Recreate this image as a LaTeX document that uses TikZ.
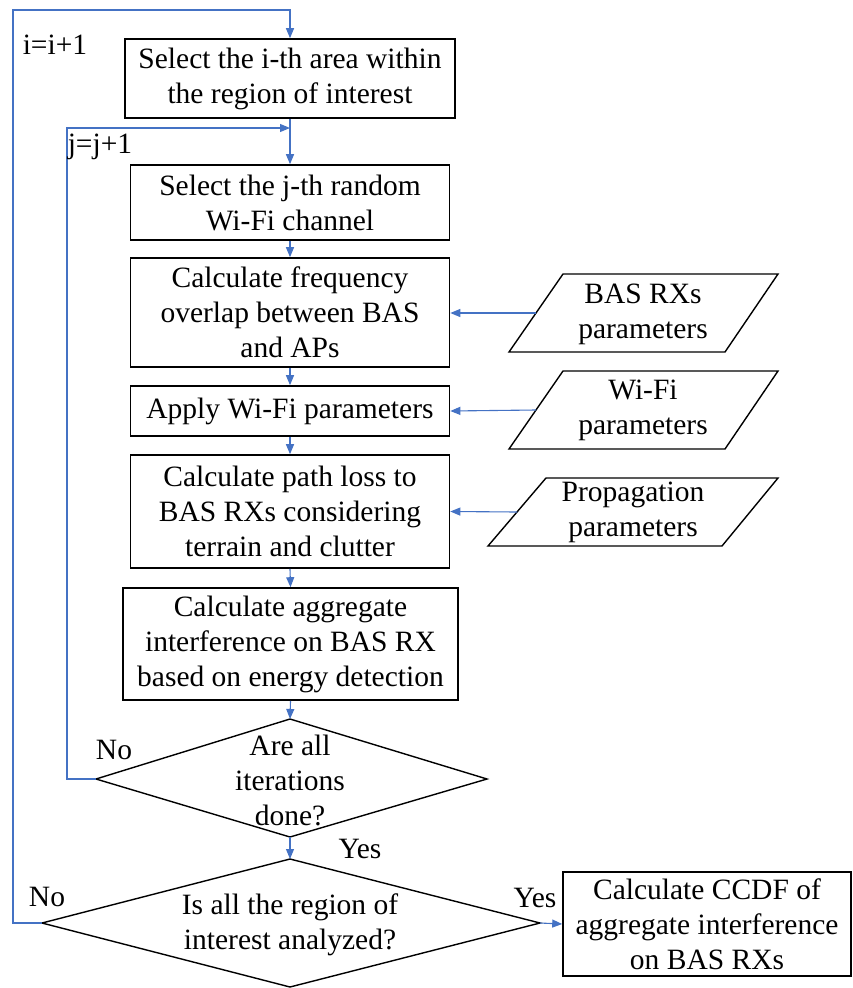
\documentclass[tikz,border=0pt]{standalone}
\usepackage{fontspec}
\setmainfont{LiberationSerif}[Extension=.ttf, UprightFont=*-Regular, BoldFont=*-Bold, ItalicFont=*-Italic, BoldItalicFont=*-BoldItalic]
\usetikzlibrary{arrows.meta}
\definecolor{flowblue}{HTML}{4472C4}
\tikzset{
  procbox/.style={draw=black, line width=1.6pt, rectangle, inner sep=0pt, align=center,
    font=\rmfamily\fontsize{29.5}{35}\selectfont},
  flow/.style={draw=flowblue, line width=1.1pt, -{Triangle[length=10pt,width=8pt]}},
  lbl/.style={font=\rmfamily\fontsize{29.5}{35}\selectfont, inner sep=0pt, align=center},
  shapeline/.style={draw=black, line width=1.4pt, line join=miter}
}
\begin{document}
\begin{tikzpicture}[x=1pt,y=-1pt]
\useasboundingbox (0,0) rectangle (852,988);

% process boxes
\node[procbox, minimum width=330pt, minimum height=79pt] (area) at (290,78.5)
  {Select the i-th area within\\the region of interest};
\node[procbox, minimum width=319pt, minimum height=75pt] (chan) at (290,202.5)
  {Select the j-th random\\Wi-Fi channel};
\node[procbox, minimum width=319pt, minimum height=109pt] (overlap) at (290,312.5)
  {Calculate frequency\\overlap between BAS\\and APs};
\node[procbox, minimum width=319pt, minimum height=50pt] (wifi) at (290,411)
  {Apply Wi-Fi parameters};
\node[procbox, minimum width=319pt, minimum height=113pt] (ploss) at (290,511.5)
  {Calculate path loss to\\BAS RXs considering\\terrain and clutter};
\node[procbox, minimum width=335pt, minimum height=112pt] (aggr) at (290.5,644)
  {Calculate aggregate\\interference on BAS RX\\based on energy detection};
\node[procbox, minimum width=288pt, minimum height=104pt] (ccdf) at (707,924)
  {Calculate CCDF of\\aggregate interference\\on BAS RXs};

% decision: inner loop
\coordinate (d1n) at (290,719);
\coordinate (d1w) at (96,779);
\coordinate (d1e) at (487,779);
\coordinate (d1s) at (290,837);
\draw[shapeline] (d1n) -- (d1e) -- (d1s) -- (d1w) -- cycle;
\node[lbl] (d1txt) at (290,780) {Are all\\iterations\\done?};

% decision: outer loop
\coordinate (d2n) at (290,859);
\coordinate (d2w) at (42,923);
\coordinate (d2e) at (540,923);
\coordinate (d2s) at (290,987);
\draw[shapeline] (d2n) -- (d2e) -- (d2s) -- (d2w) -- cycle;
\node[lbl] (d2txt) at (290,925) {Is all the region of\\interest analyzed?};

% input data parallelograms
\draw[shapeline] (563,274) -- (778,274) -- (725,352) -- (509,352) -- cycle;
\coordinate (p1in) at (536,313);
\node[lbl] (p1txt) at (643,314) {BAS RXs\\parameters};
\draw[shapeline] (563,371) -- (778,371) -- (725,449) -- (509,449) -- cycle;
\coordinate (p2in) at (536,410);
\node[lbl] (p2txt) at (643,410) {Wi-Fi\\parameters};
\draw[shapeline] (546,478) -- (778,478) -- (722,546) -- (488,546) -- cycle;
\coordinate (p3in) at (517,512);
\node[lbl] (p3txt) at (633,512) {Propagation\\parameters};

% main flow
\coordinate (itop) at (13,10);
\coordinate (jtop) at (67,128);
\coordinate (jin) at (290,128);
\draw[flow] (area.south) -- (chan.north);
\draw[flow] (chan.south) -- (overlap.north);
\draw[flow] (overlap.south) -- (wifi.north);
\draw[flow] (wifi.south) -- (ploss.north);
\draw[flow] (ploss.south) -- (aggr.north);
\draw[flow] (aggr.south) -- (d1n);
\draw[flow] (d1s) -- (d2n);
\draw[flow] (d2e) -- (ccdf.west);

% loops back
\draw[flow] (d1w) -| (jtop) -- (jin);
\draw[flow] (d2w) -| (itop) -- (area.north |- itop) -- (area.north);

% inputs
\draw[flow] (p1in) -- (overlap.east |- p1in);
\draw[flow] (p2in) -- (wifi.east);
\draw[flow] (p3in) -- (ploss.east);

% labels
\node[lbl] (iinc) at (55,45) {i=i+1};
\node[lbl] (jinc) at (100,147) {j=j+1};
\node[lbl] (no1) at (114,750) {No};
\node[lbl] (yes1) at (360,849) {Yes};
\node[lbl] (no2) at (47,897) {No};
\node[lbl] (yes2) at (535,898) {Yes};
\end{tikzpicture}
\end{document}
